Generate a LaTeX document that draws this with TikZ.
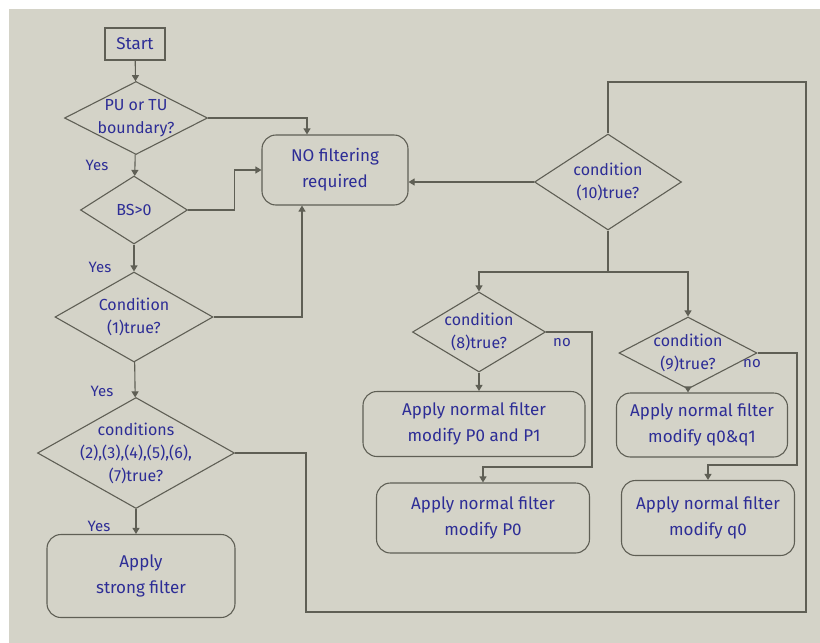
\documentclass[tikz,border=0pt]{standalone}
\usepackage{fontspec}
\setmainfont{Fira Sans}
\usetikzlibrary{shapes.geometric,arrows.meta}
\definecolor{paper}{RGB}{212,211,200}
\definecolor{ink}{RGB}{45,45,150}
\definecolor{pen}{RGB}{95,95,85}
\tikzset{
  txt/.style={text=ink, font=\fontsize{17}{26}\selectfont, align=center},
  dtxt/.style={text=ink, font=\fontsize{16}{23}\selectfont, align=center},
  dia/.style={draw=pen, line width=1.1pt, diamond, inner sep=0pt},
  rbox/.style={draw=pen, line width=1.1pt, rounded corners=14pt, txt, inner sep=2pt},
  sbox/.style={draw=pen, line width=1.1pt, txt, inner sep=2pt},
  arr/.style={draw=pen, line width=1.1pt, -{Triangle[width=7pt,length=6pt]}},
  ln/.style={draw=pen, line width=1.1pt},
  lbl/.style={text=ink, font=\fontsize{15}{17}\selectfont}
}
\begin{document}
\begin{tikzpicture}[x=1pt,y=-1pt]
\useasboundingbox (0,0) rectangle (820,643);
\fill[white] (0,0) rectangle (820,643);
\fill[paper] (9,9) rectangle (820,643);

% nodes
\node[sbox, minimum width=60pt, minimum height=32pt] (start) at (135,44) {Start};
\node[dia, minimum width=143pt, minimum height=73pt,
  label={[dtxt]center:{PU or TU\\boundary?}}] (d1) at (136,118) {};
\node[rbox, minimum width=146pt, minimum height=70pt] (nf) at (335,170) {NO filtering\\required};
\node[dia, minimum width=107pt, minimum height=68pt,
  label={[dtxt]center:{BS>0}}] (d2) at (134,210) {};
\node[dia, minimum width=158pt, minimum height=90pt,
  label={[dtxt]center:{Condition\\(1)true?}}] (d3) at (134,317) {};
\node[dia, minimum width=197pt, minimum height=111pt,
  label={[dtxt]center:{conditions\\(2),(3),(4),(5),(6),\\(7)true?}}] (d4) at (136,453) {};
\node[rbox, minimum width=188pt, minimum height=83pt] (strong) at (141,576) {Apply\\strong filter};

\node[dia, minimum width=147pt, minimum height=96pt,
  label={[dtxt]center:{condition\\(10)true?}}] (d10) at (608,182) {};
\node[dia, minimum width=133pt, minimum height=80pt,
  label={[dtxt]center:{condition\\(8)true?}}] (d8) at (479,332) {};
\node[dia, minimum width=138pt, minimum height=72pt,
  label={[dtxt]center:{condition\\(9)true?}}] (d9) at (688,353) {};

\node[rbox, minimum width=222pt, minimum height=65pt] (ba) at (474,424) {Apply normal filter\\modify P0 and P1};
\node[rbox, minimum width=213pt, minimum height=70pt] (bb) at (483,518) {Apply normal filter\\modify P0};
\node[rbox, minimum width=171pt, minimum height=64pt] (bc) at (702,425) {Apply normal filter\\modify q0\&q1};
\node[rbox, minimum width=173pt, minimum height=75pt] (bd) at (708,518) {Apply normal filter\\modify q0};

% labels
\node[lbl] (y1) at (97,165) {Yes};
\node[lbl] (y2) at (100,267) {Yes};
\node[lbl] (y3) at (102,391) {Yes};
\node[lbl] (y4) at (99,526) {Yes};
\node[lbl] (n8) at (562,343) {no};
\node[lbl] (n9) at (752,364) {no};

% helper coordinates
\coordinate (c1) at (306,612);
\coordinate (c2) at (806,612);
\coordinate (c3) at (806,82);
\coordinate (br) at (608,272);
\coordinate (k8) at (592,467);
\coordinate (k9) at (797,465);

% connectors
\draw[arr] (start) -- (d1);
\draw[arr] (d1.east) -| ([xshift=-28pt]nf.north);
\draw[arr] (d1) -- (d2);
\draw[arr] (d2.east) -- ++(46,0) |- (nf.west);
\draw[arr] (d2) -- (d3);
\draw[arr] (d3.east) -| ([xshift=-33pt]nf.south);
\draw[arr] (d3) -- (d4);
\draw[arr] (d4.south) -- (d4.south |- strong.north);
\draw[ln] (d4.east) -| (c1) -- (c2) -- (c3) -| (d10.north);
\draw[arr] (d10.west) -- (d10.west -| nf.east);
\draw[ln] (d10.south) -- (br);
\draw[arr] (br) -| (d8.north);
\draw[arr] (br) -| (d9.north);
\draw[arr] (d8.south) -- (d8.south |- ba.north);
\draw[arr] (d9.south) -- (d9.south |- bc.north);
\draw[arr] (d8.east) -| (k8) -| (bb.north);
\draw[arr] (d9.east) -| (k9) -| (bd.north);
\end{tikzpicture}
\end{document}
